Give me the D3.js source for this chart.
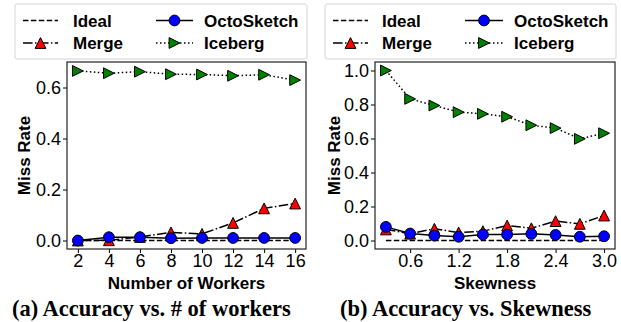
<!DOCTYPE html>
<html>
<head>
<meta charset="utf-8">
<script src="https://cdn.jsdelivr.net/npm/d3@7/dist/d3.min.js"></script>
<style>
  html, body { margin: 0; padding: 0; background: #fff; }
  svg { display: block; }
</style>
</head>
<body>
<svg id="fig" width="621" height="322"></svg>
<script>
// ---- Data ----
const workers = [2, 4, 6, 8, 10, 12, 14, 16];
const workersIdeal = [0, 0, 0, 0, 0, 0, 0, 0];
const workersMerge = [0.0, 0.001, 0.014, 0.032, 0.026, 0.069, 0.126, 0.145];
const workersOcto = [0.0, 0.013, 0.013, 0.009, 0.010, 0.010, 0.010, 0.010];
const workersIceberg = [0.665, 0.656, 0.662, 0.652, 0.651, 0.646, 0.650, 0.629];

const skewness = [0.3, 0.6, 0.9, 1.2, 1.5, 1.8, 2.1, 2.4, 2.7, 3.0];
const skewIdeal = [0, 0, 0, 0, 0, 0, 0, 0, 0, 0];
const skewMerge = [0.065, 0.040, 0.069, 0.047, 0.055, 0.088, 0.072, 0.114, 0.098, 0.147];
const skewOcto = [0.080, 0.041, 0.029, 0.022, 0.035, 0.035, 0.039, 0.033, 0.022, 0.025];
const skewIceberg = [1.0, 0.833, 0.794, 0.755, 0.745, 0.728, 0.678, 0.661, 0.598, 0.631];

const workerTicks = [2, 4, 6, 8, 10, 12, 14, 16];
const skewTicks = [0.6, 1.2, 1.8, 2.4, 3.0];
const workerYTicks = [0.0, 0.2, 0.4, 0.6];
const skewYTicks = [0.0, 0.2, 0.4, 0.6, 0.8, 1.0];

const seriesNames = ["Ideal", "Merge", "OctoSketch", "Iceberg"];

// ---- Styles ----
const styles = {
  "Ideal":      { dash: "5.5,2.4", marker: null,    fill: null },
  "Merge":      { dash: "9.6,2.4,1.5,2.4", marker: "up", fill: "#ff0000" },
  "OctoSketch": { dash: null,      marker: "circle", fill: "#0000ff" },
  "Iceberg":    { dash: "1.5,2.5", marker: "right", fill: "#008000" }
};

const sansFont = "'Liberation Sans', Arial, Helvetica, sans-serif";
const serifFont = "'Liberation Serif', 'Times New Roman', Times, serif";
const svg = d3.select("#fig");
svg.append("rect").attr("width", 621).attr("height", 322).attr("fill", "#fff");

const M = 5.4; // marker half size

function drawMarker(g, type, fill, cx, cy) {
  if (!type) return;
  if (type === "circle") {
    g.append("circle").attr("cx", cx).attr("cy", cy).attr("r", M)
      .attr("fill", fill).attr("stroke", "#000").attr("stroke-width", 1);
  } else {
    const pts = type === "up"
      ? [[cx, cy - M], [cx - M, cy + M], [cx + M, cy + M]]
      : [[cx + M, cy], [cx - M, cy - M], [cx - M, cy + M]];
    g.append("polygon").attr("points", pts.map(p => p.join(",")).join(" "))
      .attr("fill", fill).attr("stroke", "#000").attr("stroke-width", 1)
      .attr("stroke-linejoin", "miter");
  }
}

function panel(opts) {
  const { left, right, top, bottom, xDomain, yDomain, xs, series, xTicks, yTicks,
          xFmt, xLabel, legendBox, legendCols, caption, captionX, yLabelX } = opts;
  const g = svg.append("g");
  const x = d3.scaleLinear().domain(xDomain).range([left, right]);
  const y = d3.scaleLinear().domain(yDomain).range([bottom, top]);

  // legend
  const lg = g.append("g");
  lg.append("rect").attr("x", legendBox[0]).attr("y", legendBox[1])
    .attr("width", legendBox[2]).attr("height", legendBox[3])
    .attr("rx", 2).attr("fill", "#fff").attr("stroke", "#d4d4d4").attr("stroke-width", 1);
  const rows = [20.5, 43];
  seriesNames.forEach((name, i) => {
    const col = legendCols[Math.floor(i / 2)];
    const cy = rows[i % 2];
    const st = styles[name];
    lg.append("line").attr("x1", col.h0).attr("x2", col.h1).attr("y1", cy).attr("y2", cy)
      .attr("stroke", "#000").attr("stroke-width", 1.5)
      .attr("stroke-dasharray", st.dash);
    drawMarker(lg, st.marker, st.fill, (col.h0 + col.h1) / 2, cy);
    lg.append("text").attr("x", col.t).attr("y", cy + 6)
      .attr("font-family", sansFont).attr("font-weight", "bold").attr("font-size", 17)
      .attr("fill", "#000").text(name);
  });

  // axes ticks
  const yAxis = d3.axisLeft(y).tickValues(yTicks).tickFormat(d3.format(".1f"))
    .tickSize(4).tickPadding(2);
  const ya = g.append("g").attr("transform", `translate(${left},0)`).call(yAxis);
  ya.select(".domain").remove();
  ya.selectAll("text").attr("font-family", sansFont).attr("font-size", 18).attr("fill", "#000");
  ya.selectAll("line").attr("stroke", "#000");

  const xAxis = d3.axisBottom(x).tickValues(xTicks).tickFormat(xFmt)
    .tickSize(4).tickPadding(1);
  const xa = g.append("g").attr("transform", `translate(0,${bottom})`).call(xAxis);
  xa.select(".domain").remove();
  xa.selectAll("text").attr("font-family", sansFont).attr("font-size", 18).attr("fill", "#000");
  xa.selectAll("line").attr("stroke", "#000");

  // series
  const line = d3.line().x(d => x(d[0])).y(d => y(d[1]));
  seriesNames.forEach(name => {
    const st = styles[name];
    const pts = xs.map((v, i) => [v, series[name][i]]);
    g.append("path").attr("d", line(pts)).attr("fill", "none")
      .attr("stroke", "#000").attr("stroke-width", 1.5)
      .attr("stroke-dasharray", st.dash);
    pts.forEach(p => drawMarker(g, st.marker, st.fill, x(p[0]), y(p[1])));
  });

  // frame
  g.append("rect").attr("x", left).attr("y", top)
    .attr("width", right - left).attr("height", bottom - top)
    .attr("fill", "none").attr("stroke", "#222").attr("stroke-width", 1.2);

  // labels
  g.append("text").attr("x", (left + right) / 2).attr("y", 289)
    .attr("text-anchor", "middle").attr("font-family", sansFont)
    .attr("font-weight", "bold").attr("font-size", 17).attr("fill", "#000").text(xLabel);
  g.append("text").attr("transform", `translate(${yLabelX},${(top + bottom) / 2}) rotate(-90)`)
    .attr("text-anchor", "middle").attr("font-family", sansFont)
    .attr("font-weight", "bold").attr("font-size", 17).attr("fill", "#000").text("Miss Rate");
  g.append("text").attr("x", captionX).attr("y", 316)
    .attr("font-family", serifFont).attr("font-weight", "bold").attr("font-size", 22.5)
    .attr("fill", "#000").text(caption);
}

panel({
  left: 67, right: 306, top: 62, bottom: 249,
  xDomain: [1.3, 16.7], yDomain: [-0.0333, 0.7],
  xs: workers,
  series: { "Ideal": workersIdeal, "Merge": workersMerge, "OctoSketch": workersOcto, "Iceberg": workersIceberg },
  xTicks: workerTicks, yTicks: workerYTicks, xFmt: d3.format("d"),
  xLabel: "Number of Workers",
  legendBox: [15, 4, 292, 55],
  legendCols: [{ h0: 23, h1: 58, t: 73 }, { h0: 156, h1: 193, t: 204 }],
  caption: "(a) Accuracy vs. # of workers", captionX: 12, yLabelX: 30
});

panel({
  left: 375, right: 615, top: 62, bottom: 249,
  xDomain: [0.165, 3.135], yDomain: [-0.05, 1.05],
  xs: skewness,
  series: { "Ideal": skewIdeal, "Merge": skewMerge, "OctoSketch": skewOcto, "Iceberg": skewIceberg },
  xTicks: skewTicks, yTicks: skewYTicks, xFmt: d3.format(".1f"),
  xLabel: "Skewness",
  legendBox: [325, 4, 291, 55],
  legendCols: [{ h0: 333, h1: 368, t: 382 }, { h0: 465, h1: 503, t: 514 }],
  caption: "(b) Accuracy vs. Skewness", captionX: 340, yLabelX: 340
});
</script>
</body>
</html>
